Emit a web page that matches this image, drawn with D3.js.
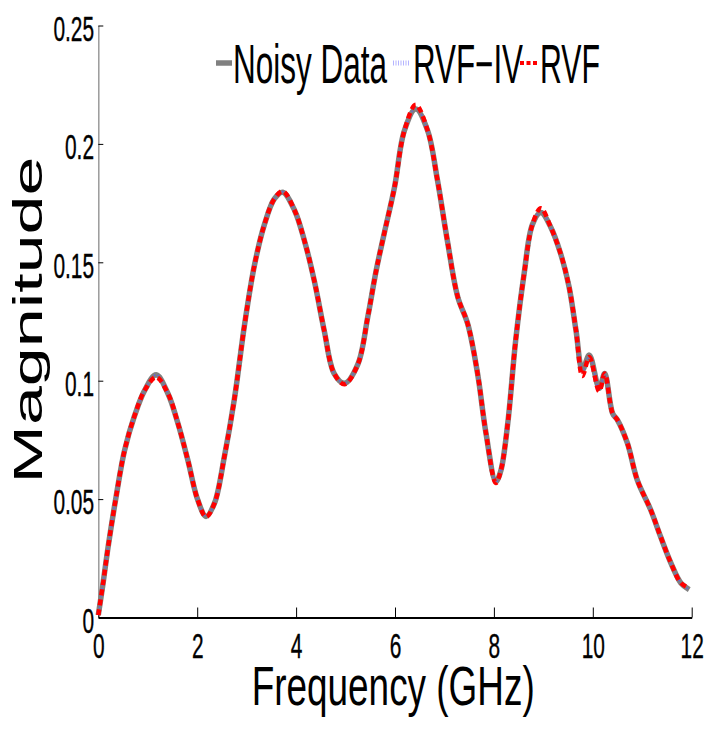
<!DOCTYPE html>
<meta charset="utf-8">
<style>
  body { margin: 0; background: #fff; }
  text { font-family: 'Liberation Sans', Arial, Helvetica, sans-serif; fill: #000; }
</style>
<body>
<svg id="chart"></svg>

<script src="https://d3js.org/d3.v7.min.js"></script>
<script>
// frequency samples (GHz)
var freq = [0, 0.1, 0.2, 0.36, 0.53, 0.73, 0.94, 1.17, 1.41, 1.61, 1.81, 2.01, 2.18, 2.35, 2.55,
  2.75, 2.96, 3.16, 3.36, 3.56, 3.73, 3.97, 4.17, 4.37, 4.57, 4.77, 4.98, 5.25, 5.45, 5.62,
  5.78, 5.99, 6.19, 6.42, 6.66, 6.86, 7.06, 7.27, 7.47, 7.67, 7.84, 8.04, 8.14, 8.28, 8.44,
  8.61, 8.78, 8.95, 9.15, 9.35, 9.52, 9.66, 9.79, 9.93, 10.13, 10.24, 10.4, 10.5, 10.7,
  10.9, 11.17, 11.37, 11.58, 11.78, 11.95];

var noisyData = [0.001, 0.015, 0.030, 0.051, 0.0705, 0.085, 0.096, 0.1025, 0.0945, 0.082, 0.0665, 0.0497, 0.0427, 0.0483, 0.068,
  0.092, 0.124, 0.149, 0.166, 0.1768, 0.1796, 0.1719, 0.159, 0.142, 0.121, 0.103, 0.0989, 0.107, 0.127, 0.1466,
  0.162, 0.1817, 0.2056, 0.2147, 0.2056, 0.1845, 0.159, 0.1353, 0.124, 0.103, 0.0778, 0.0574, 0.062, 0.082, 0.117,
  0.145, 0.166, 0.171, 0.1648, 0.1536, 0.1396, 0.1213, 0.1045, 0.1108, 0.0968, 0.103, 0.0862, 0.0834, 0.0736,
  0.058, 0.0455, 0.0342, 0.023, 0.0146, 0.0118];

var rvfIV = [0.001, 0.015, 0.030, 0.051, 0.0705, 0.085, 0.096, 0.1025, 0.0945, 0.082, 0.0665, 0.0497, 0.0427, 0.0483, 0.068,
  0.092, 0.124, 0.149, 0.166, 0.1768, 0.1798, 0.1719, 0.159, 0.142, 0.121, 0.103, 0.0989, 0.107, 0.127, 0.1466,
  0.162, 0.1817, 0.2056, 0.2152, 0.2056, 0.1845, 0.159, 0.1353, 0.124, 0.103, 0.0778, 0.0572, 0.062, 0.082, 0.117,
  0.145, 0.166, 0.1715, 0.1648, 0.1536, 0.1396, 0.1213, 0.1035, 0.1105, 0.0962, 0.103, 0.0862, 0.0834, 0.0736,
  0.058, 0.0455, 0.0342, 0.023, 0.0146, 0.0118];

var rvf = [0.001, 0.015, 0.030, 0.051, 0.0705, 0.085, 0.096, 0.1015, 0.0945, 0.082, 0.0665, 0.0497, 0.0425, 0.0483, 0.068,
  0.092, 0.124, 0.149, 0.166, 0.1768, 0.1800, 0.1719, 0.159, 0.142, 0.121, 0.103, 0.0985, 0.107, 0.127, 0.1466,
  0.162, 0.1817, 0.2056, 0.2165, 0.2056, 0.1845, 0.159, 0.1353, 0.124, 0.103, 0.0778, 0.0568, 0.062, 0.082, 0.117,
  0.145, 0.166, 0.1728, 0.1648, 0.1536, 0.1396, 0.1213, 0.1020, 0.1100, 0.0955, 0.103, 0.0862, 0.0834, 0.0736,
  0.058, 0.0455, 0.0342, 0.023, 0.0146, 0.0125];

var xTicks = [0, 2, 4, 6, 8, 10, 12];
var yTicks = [0, 0.05, 0.1, 0.15, 0.2, 0.25];
var yTickLabels = ["0", "0.05", "0.1", "0.15", "0.2", "0.25"];
var legendNames = ["Noisy Data", "RVF\u2212IV", "RVF"];

var W = 705, H = 736;
var sx = 0.58; // the original figure is squeezed sideways, text too

var svg = d3.select("#chart").attr("width", W).attr("height", H);

var x = d3.scaleLinear().domain([0, 12]).range([98.3, 691.7]);
var y = d3.scaleLinear().domain([0, 0.25]).range([617.5, 25.5]);

// axes
var yAxis = d3.axisLeft(y).tickValues(yTicks).tickSizeInner(-5).tickSizeOuter(0).tickPadding(4)
  .tickFormat(function(d, i) { return yTickLabels[i]; });
var gy = svg.append("g").attr("transform", "translate(" + x(0) + ",0)").call(yAxis);
gy.select(".domain").attr("stroke", "#9a9a9a").attr("stroke-width", 1.5);
gy.selectAll(".tick line").attr("stroke", "#000").attr("stroke-width", 1);
gy.selectAll(".tick text")
  .attr("font-size", 36)
  .attr("font-family", "'Liberation Sans', Arial, sans-serif")
  .attr("x", -4.3 / sx)
  .attr("dy", "0.41em")
  .attr("stroke", "#000").attr("stroke-width", 0.4)
  .attr("transform", "scale(" + sx + ",1)");

var xAxis = d3.axisBottom(x).tickValues(xTicks).tickSizeInner(-10).tickSizeOuter(0).tickPadding(14.5);
var gx = svg.append("g").attr("transform", "translate(0," + y(0) + ")").call(xAxis);
gx.select(".domain").attr("stroke", "#000").attr("stroke-width", 2);
gx.selectAll(".tick line").attr("stroke", "#000").attr("stroke-width", 1);
gx.selectAll(".tick text")
  .attr("font-size", 36)
  .attr("font-family", "'Liberation Sans', Arial, sans-serif")
  .attr("stroke", "#000").attr("stroke-width", 0.4)
  .attr("transform", "scale(" + sx + ",1)");
svg.selectAll(".tick text").attr("fill", "#000");

// curves
var line = d3.line()
  .x(function(d) { return x(d[0]); })
  .y(function(d) { return y(d[1]); })
  .curve(d3.curveCatmullRom.alpha(0.5));

function pairs(vals) { return freq.map(function(f, i) { return [f, vals[i]]; }); }

svg.append("path").datum(pairs(noisyData))
  .attr("d", line).attr("fill", "none")
  .attr("stroke", "#808080").attr("stroke-width", 5.5)
  .attr("stroke-linejoin", "round");

svg.append("path").datum(pairs(rvfIV))
  .attr("d", line).attr("fill", "none")
  .attr("stroke", "#5a5aff").attr("stroke-width", 1.3)
  .attr("stroke-dasharray", "1.2,2.5");

svg.append("path").datum(pairs(rvf))
  .attr("d", line).attr("fill", "none")
  .attr("stroke", "#ff0000").attr("stroke-width", 4.5)
  .attr("stroke-dasharray", "6,4");

// legend
var leg = svg.append("g");
leg.append("line").attr("x1", 216).attr("x2", 232).attr("y1", 63).attr("y2", 63)
  .attr("stroke", "#808080").attr("stroke-width", 5.5);
leg.append("text").attr("x", 233).attr("y", 83).attr("font-size", 56)
  .attr("textLength", 154).attr("lengthAdjust", "spacingAndGlyphs").text(legendNames[0]);

leg.append("line").attr("x1", 393).attr("x2", 409).attr("y1", 63).attr("y2", 63)
  .attr("stroke", "#b4b4ff").attr("stroke-width", 5)
  .attr("stroke-dasharray", "1,1.5");
leg.append("text").attr("x", 413).attr("y", 83).attr("font-size", 56)
  .attr("textLength", 110).attr("lengthAdjust", "spacingAndGlyphs").text(legendNames[1]);

leg.append("line").attr("x1", 520).attr("x2", 537).attr("y1", 63).attr("y2", 63)
  .attr("stroke", "#ff0000").attr("stroke-width", 4)
  .attr("stroke-dasharray", "4,2.5");
leg.append("text").attr("x", 540).attr("y", 83).attr("font-size", 56)
  .attr("textLength", 60).attr("lengthAdjust", "spacingAndGlyphs").text(legendNames[2]);

// axis titles
svg.append("text")
  .attr("transform", "translate(42,320) scale(0.57,1) rotate(-90)")
  .attr("text-anchor", "middle")
  .attr("font-size", 70)
  .text("Magnitude");

svg.append("text")
  .attr("x", 251.7).attr("y", 705)
  .attr("font-size", 56)
  .attr("textLength", 283).attr("lengthAdjust", "spacingAndGlyphs")
  .text("Frequency (GHz)");
</script>
</body>
